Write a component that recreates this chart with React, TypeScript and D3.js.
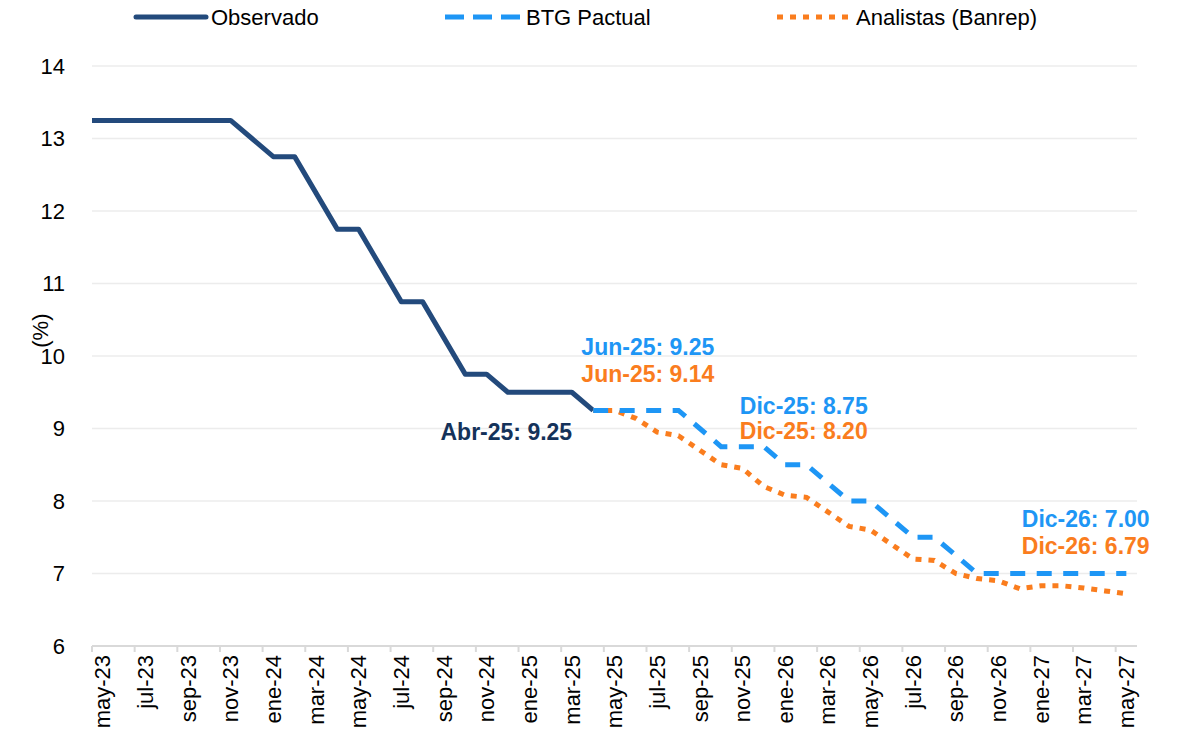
import * as d3 from "d3";

const MONTHS = [
  "may-23", "jun-23", "jul-23", "ago-23", "sep-23", "oct-23", "nov-23", "dic-23",
  "ene-24", "feb-24", "mar-24", "abr-24", "may-24", "jun-24", "jul-24", "ago-24",
  "sep-24", "oct-24", "nov-24", "dic-24", "ene-25", "feb-25", "mar-25", "abr-25",
  "may-25", "jun-25", "jul-25", "ago-25", "sep-25", "oct-25", "nov-25", "dic-25",
  "ene-26", "feb-26", "mar-26", "abr-26", "may-26", "jun-26", "jul-26", "ago-26",
  "sep-26", "oct-26", "nov-26", "dic-26", "ene-27", "feb-27", "mar-27", "abr-27",
  "may-27",
];

// abr-23 value, drawn just left of the first category and clipped by the plot area
const OBSERVED_PREV = 13.25;
// may-23 .. abr-25
const OBSERVED = [
  13.25, 13.25, 13.25, 13.25, 13.25, 13.25, 13.25, 13.0, 12.75, 12.75, 12.25, 11.75,
  11.75, 11.25, 10.75, 10.75, 10.25, 9.75, 9.75, 9.5, 9.5, 9.5, 9.5, 9.25,
];
// abr-25 .. may-27
const FORECAST_START = 23;
const BTG = [
  9.25, 9.25, 9.25, 9.25, 9.25, 9.0, 8.75, 8.75, 8.75, 8.5, 8.5, 8.25, 8.0, 8.0,
  7.75, 7.5, 7.5, 7.25, 7.0, 7.0, 7.0, 7.0, 7.0, 7.0, 7.0, 7.0,
];
const ANALISTAS = [
  9.25, 9.25, 9.14, 8.95, 8.9, 8.7, 8.5, 8.45, 8.2, 8.08, 8.05, 7.85, 7.65, 7.6,
  7.4, 7.2, 7.18, 7.0, 6.93, 6.9, 6.79, 6.83, 6.83, 6.8, 6.76, 6.72,
];
const Y_TICKS = [6, 7, 8, 9, 10, 11, 12, 13, 14];

const NAVY = "#234a7c";
const NAVY_TEXT = "#14325a";
const BLUE = "#1e96f5";
const ORANGE = "#fa7d1e";
const FONT = "'Liberation Sans', Arial, sans-serif";

const ANNOTATIONS = [
  { month: "abr-25", value: 9.25, text: "Abr-25: 9.25", color: NAVY_TEXT, dx: -21, dy: 30, anchor: "end" },
  { month: "jun-25", value: 9.25, text: "Jun-25: 9.25", color: BLUE, dx: 12, dy: -55, anchor: "middle" },
  { month: "jun-25", value: 9.25, text: "Jun-25: 9.14", color: ORANGE, dx: 12, dy: -28, anchor: "middle" },
  { month: "dic-25", value: 8.75, text: "Dic-25: 8.75", color: BLUE, dx: 40, dy: -33, anchor: "middle" },
  { month: "dic-25", value: 8.75, text: "Dic-25: 8.20", color: ORANGE, dx: 40, dy: -8, anchor: "middle" },
  { month: "dic-26", value: 7.0, text: "Dic-26: 7.00", color: BLUE, dx: 66, dy: -47, anchor: "middle" },
  { month: "dic-26", value: 7.0, text: "Dic-26: 6.79", color: ORANGE, dx: 66, dy: -20, anchor: "middle" },
];

const WIDTH = 1178;
const HEIGHT = 741;
const MARGIN = { top: 66, right: 41, bottom: 95, left: 92 };

export default function App() {
  const innerW = WIDTH - MARGIN.left - MARGIN.right;
  const innerH = HEIGHT - MARGIN.top - MARGIN.bottom;

  // category index -> center of its band
  const x = d3.scaleLinear().domain([-0.5, MONTHS.length - 0.5]).range([0, innerW]);
  const y = d3.scaleLinear().domain([6, 14]).range([innerH, 0]);

  const line = d3
    .line<[number, number]>()
    .x((d) => x(d[0]))
    .y((d) => y(d[1]));

  const obsPts: [number, number][] = [[-1, OBSERVED_PREV], ...OBSERVED.map((v, i) => [i, v] as [number, number])];
  const btgPts = BTG.map((v, i) => [FORECAST_START + i, v] as [number, number]);
  const anaPts = ANALISTAS.map((v, i) => [FORECAST_START + i, v] as [number, number]);

  const tickIdx = MONTHS.map((_, i) => i).filter((i) => i % 2 === 0);

  return (
    <div style={{ position: "absolute", left: 0, top: 0 }}>
      <svg width={WIDTH} height={HEIGHT} style={{ display: "block", fontFamily: FONT }}>
        <rect width={WIDTH} height={HEIGHT} fill="#fff" />
        <defs>
          <clipPath id="plot">
            <rect x={0} y={-20} width={innerW} height={innerH + 40} />
          </clipPath>
        </defs>

        {/* legend */}
        <g transform="translate(0,17)">
          <line x1={136} x2={206} y1={0} y2={0} stroke={NAVY} strokeWidth={5} strokeLinecap="round" />
          <text x={211} y={8} fontSize={22} fill="#000">Observado</text>
          <line x1={445} x2={521} y1={0} y2={0} stroke={BLUE} strokeWidth={5} strokeDasharray="19,9" />
          <text x={526} y={8} fontSize={22} fill="#000">BTG Pactual</text>
          <line x1={777} x2={853} y1={0} y2={0} stroke={ORANGE} strokeWidth={5} strokeDasharray="6,7" />
          <text x={856} y={8} fontSize={22} fill="#000">Analistas (Banrep)</text>
        </g>

        <g transform={`translate(${MARGIN.left},${MARGIN.top})`}>
          {/* gridlines */}
          {Y_TICKS.filter((t) => t !== 6).map((t) => (
            <line key={t} x1={0} x2={innerW} y1={y(t)} y2={y(t)} stroke="#ececec" strokeWidth={1.5} />
          ))}
          {/* y tick labels */}
          {Y_TICKS.map((t) => (
            <text key={t} x={-27} y={y(t)} dy="0.36em" textAnchor="end" fontSize={22} fill="#000">
              {t}
            </text>
          ))}
          <text
            transform={`translate(${-44},${y(10.35)}) rotate(-90)`}
            textAnchor="middle"
            fontSize={22}
            fill="#000"
          >
            (%)
          </text>

          {/* x axis */}
          <line x1={0} x2={innerW} y1={innerH} y2={innerH} stroke="#d9d9d9" strokeWidth={2} />
          {tickIdx.map((i) => (
            <line key={i} x1={x(i - 0.5)} x2={x(i - 0.5)} y1={innerH} y2={innerH + 6} stroke="#d9d9d9" strokeWidth={2} />
          ))}
          {tickIdx.map((i) => (
            <text
              key={i}
              transform={`translate(${x(i)},${innerH + 9}) rotate(-90)`}
              textAnchor="end"
              dy="0.35em"
              fontSize={22}
              fill="#000"
            >
              {MONTHS[i]}
            </text>
          ))}

          {/* series */}
          <g clipPath="url(#plot)">
            <path d={line(obsPts) ?? ""} fill="none" stroke={NAVY} strokeWidth={5} strokeLinejoin="round" />
            <path d={line(anaPts) ?? ""} fill="none" stroke={ORANGE} strokeWidth={5} strokeDasharray="6,7" />
            <path d={line(btgPts) ?? ""} fill="none" stroke={BLUE} strokeWidth={5} strokeDasharray="15,11.5" />
          </g>

          {/* annotations */}
          {ANNOTATIONS.map((a) => (
            <text
              key={a.text}
              x={x(MONTHS.indexOf(a.month)) + a.dx}
              y={y(a.value) + a.dy}
              textAnchor={a.anchor}
              fontSize={23}
              fontWeight="bold"
              fill={a.color}
            >
              {a.text}
            </text>
          ))}
        </g>
      </svg>
    </div>
  );
}
